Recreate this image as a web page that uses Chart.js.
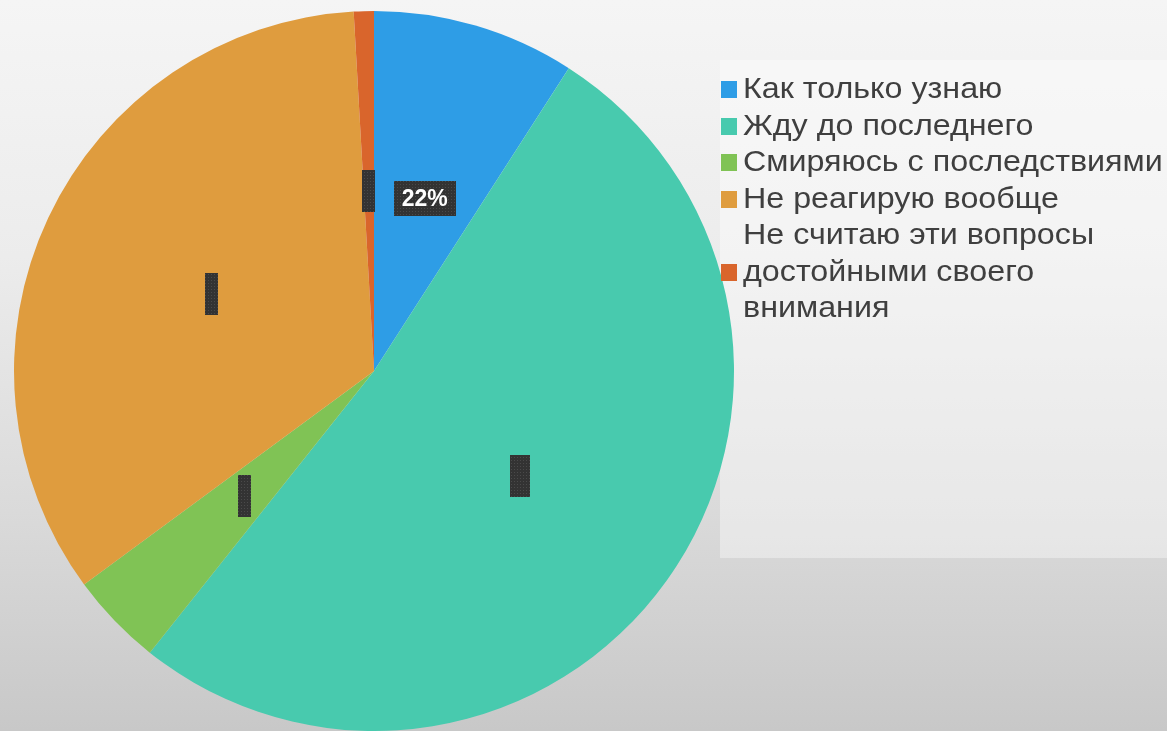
<!DOCTYPE html>
<html>
<head>
<meta charset="utf-8">
<script src="https://cdn.jsdelivr.net/npm/chart.js@4.4.1/dist/chart.umd.min.js"></script>
<style>
  html, body { margin: 0; padding: 0; }
  body {
    width: 1167px; height: 731px; overflow: hidden; position: relative;
    background: linear-gradient(to bottom, #f5f5f5 0%, #ececec 35%, #dadada 70%, #c8c8c8 100%);
  }
  #panel {
    position: absolute; left: 720px; top: 60px; width: 447px; height: 498px;
    background: rgba(255, 255, 255, 0.38);
  }
  #wrap { position: absolute; left: 0; top: 0; width: 1167px; height: 731px; }
</style>
</head>
<body>
<div id="panel"></div>
<div id="wrap"><canvas id="pieChart" width="1167" height="731"></canvas></div>
<script>
// answers (slice order clockwise from 12 o'clock)
const categories = [
    'Как только узнаю',
    'Жду до последнего',
    'Смиряюсь с последствиями',
    'Не реагирую вообще',
    ['Не считаю эти вопросы', 'достойными своего', 'внимания']
];
const shares = [9.1, 51.6, 4.2, 34.2, 0.9];
const sliceLabels = ['22%', '', '', '', ''];
const sliceColors = ['#2e9de6', '#48caae', '#80c355', '#df9c3e', '#d9652c'];

// dark label boxes with a faint dotted texture
function makePattern() {
    const c = document.createElement('canvas');
    c.width = 3; c.height = 3;
    const g = c.getContext('2d');
    g.fillStyle = '#333333';
    g.fillRect(0, 0, 3, 3);
    g.fillStyle = '#4a4a4a';
    g.fillRect(1, 1, 1, 1);
    return g.createPattern(c, 'repeat');
}

const sliceLabelPlugin = {
    id: 'sliceLabels',
    afterDatasetsDraw(chart) {
        const ctx = chart.ctx;
        const arcs = chart.getDatasetMeta(0).data;
        const pattern = makePattern();
        ctx.save();
        ctx.font = 'bold 23px "Liberation Sans", Arial, sans-serif';
        ctx.textAlign = 'center';
        ctx.textBaseline = 'middle';
        arcs.forEach((arc, i) => {
            const pos = arc.tooltipPosition();
            const text = sliceLabels[i];
            let w = i === 1 ? 20 : 13;
            let h = 42;
            if (text) {
                w = ctx.measureText(text).width + 16;
                h = 35;
            }
            ctx.fillStyle = pattern;
            ctx.fillRect(Math.round(pos.x - w / 2), Math.round(pos.y - h / 2), Math.round(w), h);
            if (text) {
                ctx.fillStyle = '#ffffff';
                ctx.fillText(text, pos.x, pos.y + 1);
            }
        });
        ctx.restore();
    }
};

const legendPlugin = {
    id: 'sideLegend',
    afterDraw(chart) {
        const ctx = chart.ctx;
        const lineH = 36.5;
        const textX = 743;
        const stretch = 1.075;
        let y = 90;
        ctx.save();
        ctx.font = '30px "Liberation Sans", Arial, sans-serif';
        ctx.textBaseline = 'middle';
        chart.data.labels.forEach((label, i) => {
            const lines = Array.isArray(label) ? label : [label];
            const mid = y + (lines.length - 1) * lineH / 2;
            ctx.fillStyle = sliceColors[i];
            ctx.fillRect(721, Math.round(mid - 9), 16, 17);
            ctx.fillStyle = '#3f3f3f';
            lines.forEach((t, k) => {
                ctx.save();
                ctx.translate(textX, y + k * lineH);
                ctx.scale(stretch, 1);
                ctx.fillText(t, 0, 0);
                ctx.restore();
            });
            y += lines.length * lineH;
        });
        ctx.restore();
    }
};

const chart = new Chart(document.getElementById('pieChart').getContext('2d'), {
    type: 'pie',
    data: {
        labels: categories,
        datasets: [{
            data: shares,
            backgroundColor: sliceColors,
            borderWidth: 0,
            hoverOffset: 0
        }]
    },
    options: {
        responsive: false,
        animation: false,
        layout: { padding: { left: 14, right: 433, top: 11, bottom: 0 } },
        plugins: {
            legend: { display: false },
            tooltip: { enabled: false }
        }
    },
    plugins: [sliceLabelPlugin, legendPlugin]
});
</script>
</body>
</html>
